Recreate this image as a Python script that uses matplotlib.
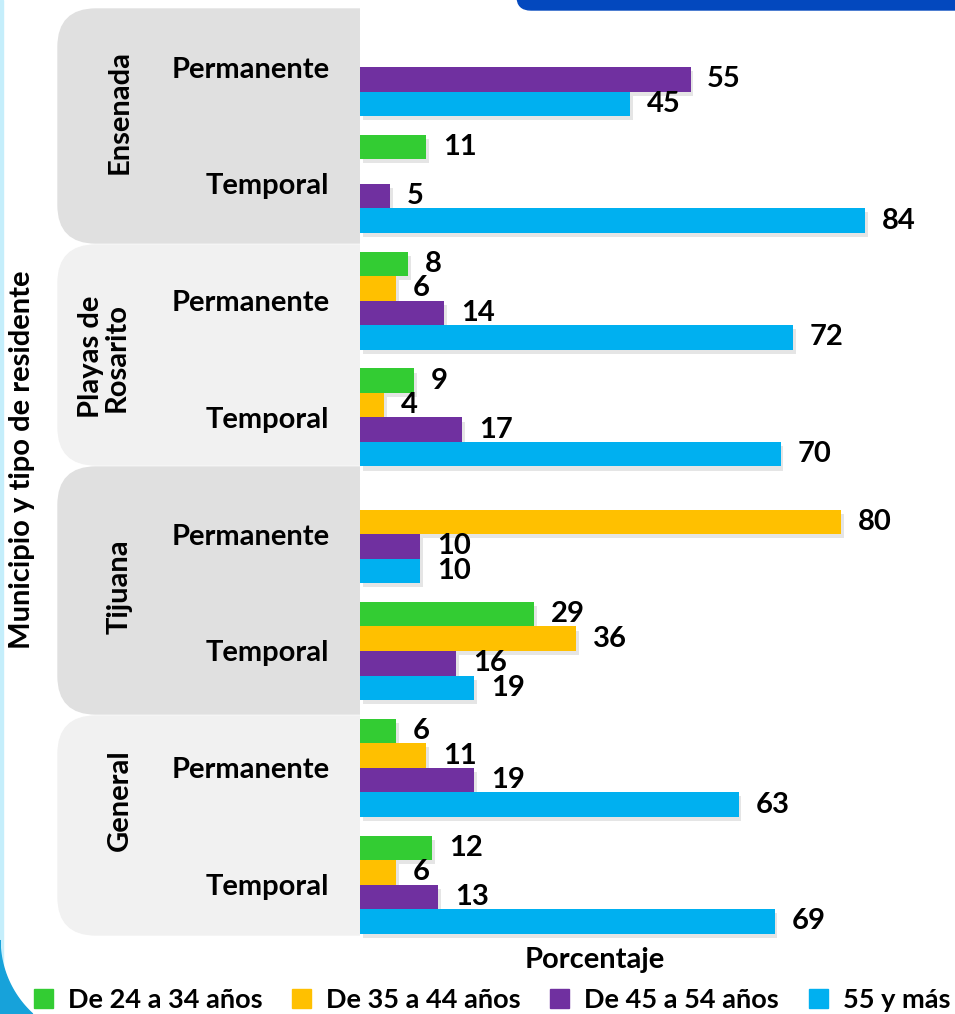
import numpy as np
import matplotlib
matplotlib.use("Agg")
import matplotlib.pyplot as plt
import matplotlib.patheffects as pe
from matplotlib.patches import FancyBboxPatch, Rectangle, Polygon, Patch
from matplotlib.transforms import Affine2D

plt.rcParams['font.family'] = ['Lato', 'DejaVu Sans']
plt.rcParams['font.weight'] = 'bold'

# datos
municipios = ["Ensenada", "Playas de\nRosarito", "Tijuana", "General"]
tipos = ["Permanente", "Temporal"]
series = ["De 24 a 34 años", "De 35 a 44 años", "De 45 a 54 años", "55 y más"]
colores = ["#33CC33", "#FFC000", "#7030A0", "#00B0F0"]

# orden: Ensenada P/T, Playas P/T, Tijuana P/T, General P/T
edad_24_34 = [np.nan, 11, 8, 9, np.nan, 29, 6, 12]
edad_35_44 = [np.nan, np.nan, 6, 4, 80, 36, 11, 6]
edad_45_54 = [55, 5, 14, 17, 10, 16, 19, 13]
edad_55_mas = [45, 84, 72, 70, 10, 19, 63, 69]
datos = [edad_24_34, edad_35_44, edad_45_54, edad_55_mas]

W, H = 955, 1014
fig = plt.figure(figsize=(W / 100, H / 100), dpi=100)
px = Affine2D().scale(1 / 100) + fig.dpi_scale_trans  # pixeles (y hacia arriba)


def fx(x):
    return x / W


def fy(y):
    return 1 - y / H


# decoracion del fondo
fig.add_artist(Rectangle((0, 0), 3, H, transform=px, color="#c5eefb", zorder=-5))
ang = np.linspace(np.pi, np.pi + np.arccos(67.3 / 100), 30)
arco = [(100 + 100 * np.cos(a), H - (940 - 100 * np.sin(a))) for a in ang]
fig.add_artist(Polygon(arco + [(0, 0)], closed=True, transform=px, color="#17a2da", zorder=-4))
fig.add_artist(FancyBboxPatch((517, H - 10), 600, 60, boxstyle="round,pad=0,rounding_size=14",
                              transform=px, color="#0348BE", zorder=-4))

# paneles grises de cada municipio
paneles = [(9, 243, "#e0e0e0"), (245, 465, "#f1f1f1"), (467, 714, "#e0e0e0"), (716, 935, "#f1f1f1")]
clip = Rectangle((0, 0), 360, H, transform=px)
for top, bot, col in paneles:
    p = FancyBboxPatch((58, H - bot), 360, bot - top, boxstyle="round,pad=0,rounding_size=38",
                       transform=px, color=col, zorder=-3)
    fig.add_artist(p)
    p.set_clip_path(clip)

ax = fig.add_axes([fx(360), fy(943), 1 - fx(360), (943 - 8.6) / H])
ax.patch.set_visible(False)
pos = np.arange(8)
w = 0.21
sombra = [pe.SimplePatchShadow(offset=(2, -3), shadow_rgbFace="#999999", alpha=0.25), pe.Normal()]
for k, (vals, col) in enumerate(zip(datos, colores)):
    bars = ax.barh(pos + (k - 1.5) * w, vals, height=w, color=col, path_effects=sombra, label=series[k])
    etiquetas = ["" if np.isnan(v) else f"{v:.0f}" for v in vals]
    ax.bar_label(bars, labels=etiquetas, padding=12, fontsize=21, fontweight="bold")

ax.set_xlim(0, 99)
ax.set_ylim(7.5, -0.5)
ax.set_yticks(pos, tipos * 4)
ax.tick_params(axis="y", length=0, pad=22, labelsize=21)
ax.tick_params(axis="x", bottom=False, labelbottom=False)
for s in ax.spines.values():
    s.set_visible(False)

# etiquetas de municipio
centros = [(120, 112), (104, 357), (120, 587), (120, 800)]
for nombre, (xc, yc) in zip(municipios, centros):
    fig.text(fx(xc), fy(yc), nombre, rotation=90, ha="center", va="center",
             multialignment="center", fontsize=21, linespacing=1.0)

fig.text(fx(22), fy(460), "Municipio y tipo de residente", rotation=90, ha="center", va="center", fontsize=21)
fig.text(fx(595), fy(960), "Porcentaje", ha="center", va="center", fontsize=21)

fig.legend(handles=[Patch(color=c, label=s) for c, s in zip(colores, series)],
           loc="center", bbox_to_anchor=(fx(492), fy(1000)), ncol=4, frameon=False,
           fontsize=19.5, handlelength=0.7, handleheight=0.7, handletextpad=0.55,
           columnspacing=1.1, borderaxespad=0, borderpad=0)

fig.savefig("out.png", dpi=100)
